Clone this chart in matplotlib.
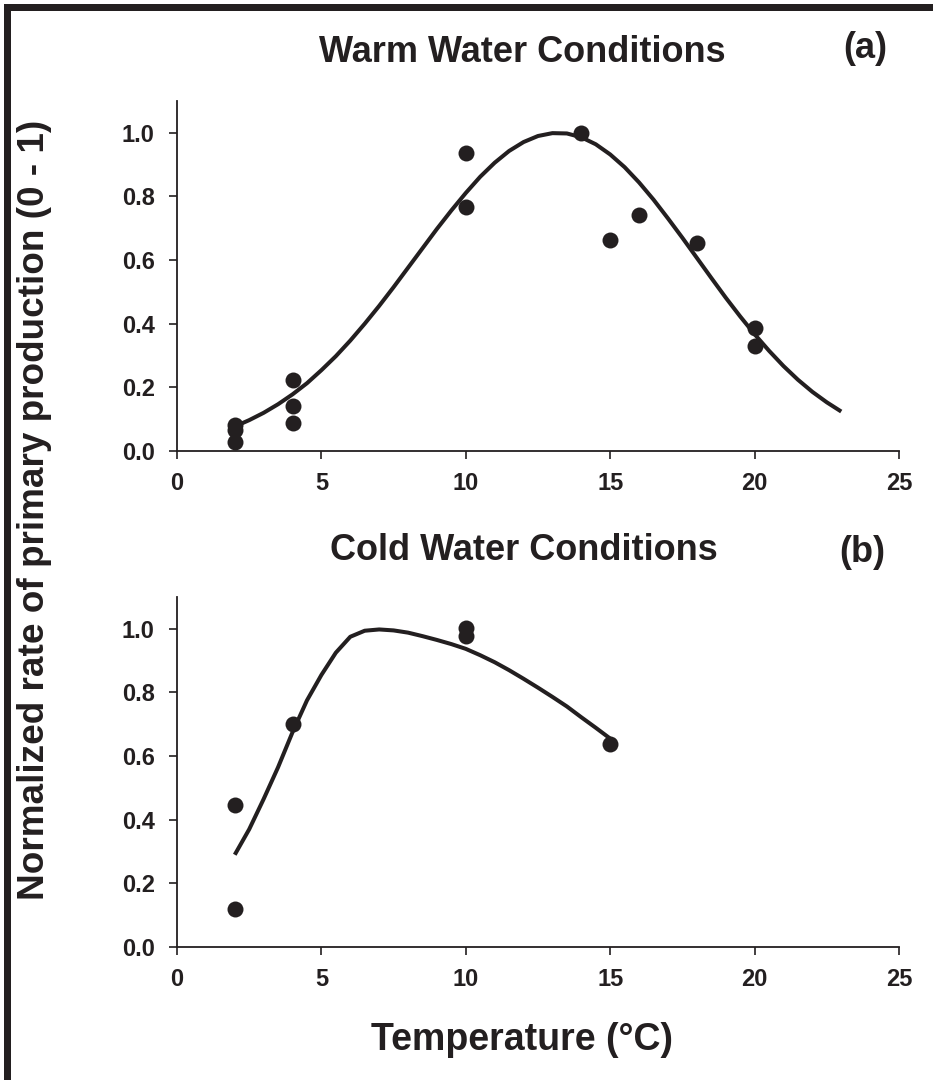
import matplotlib
matplotlib.use("Agg")
import matplotlib.pyplot as plt
from matplotlib.patches import Rectangle

plt.rcParams['font.family'] = ['Liberation Sans', 'DejaVu Sans']
plt.rcParams['font.weight'] = 'bold'

# ---- Data: warm water (panel a) ----
warm_x = [2, 2, 2, 4, 4, 4, 10, 10, 14, 15, 16, 18, 20, 20]
warm_y = [0.082, 0.066, 0.027, 0.222, 0.140, 0.089, 0.937, 0.767, 1.000, 0.663, 0.742, 0.653, 0.386, 0.331]

warm_fit_x = [2, 2.5, 3, 3.5, 4, 4.5, 5, 5.5, 6, 6.5, 7, 7.5, 8, 8.5, 9, 9.5, 10, 10.5, 11, 11.5,
              12, 12.5, 13, 13.5, 14, 14.5, 15, 15.5, 16, 16.5, 17, 17.5, 18, 18.5, 19, 19.5,
              20, 20.5, 21, 21.5, 22, 22.5, 23]
warm_fit_y = [0.077, 0.097, 0.120, 0.147, 0.178, 0.213, 0.254, 0.298, 0.347, 0.400, 0.456, 0.515,
              0.576, 0.637, 0.698, 0.756, 0.811, 0.862, 0.906, 0.943, 0.971, 0.990, 0.999, 0.998,
              0.986, 0.964, 0.932, 0.892, 0.844, 0.790, 0.731, 0.670, 0.607, 0.544, 0.482, 0.423,
              0.367, 0.315, 0.267, 0.224, 0.186, 0.153, 0.124]

# ---- Data: cold water (panel b) ----
cold_x = [2, 2, 4, 10, 10, 15]
cold_y = [0.445, 0.118, 0.700, 1.002, 0.979, 0.638]

cold_fit_x = [2, 2.5, 3, 3.5, 4, 4.5, 5, 5.5, 6, 6.5, 7, 7.5, 8, 8.5, 9, 9.5, 10, 10.5, 11, 11.5,
              12, 12.5, 13, 13.5, 14, 14.5, 15]
cold_fit_y = [0.290, 0.370, 0.465, 0.565, 0.675, 0.775, 0.855, 0.925, 0.975, 0.994, 0.998, 0.995,
              0.988, 0.977, 0.965, 0.952, 0.937, 0.917, 0.895, 0.870, 0.843, 0.815, 0.786, 0.756,
              0.722, 0.689, 0.655]

x_ticks = [0, 5, 10, 15, 20, 25]
y_ticks = [0.0, 0.2, 0.4, 0.6, 0.8, 1.0]
y_tick_labels = ['0.0', '0.2', '0.4', '0.6', '0.8', '1.0']

titles = ['Warm Water Conditions', 'Cold Water Conditions']
panel_tags = ['(a)', '(b)']
ylabel = 'Normalized rate of primary production (0 - 1)'
xlabel = 'Temperature (°C)'

W, H = 933, 1080
fig = plt.figure(figsize=(W / 100, H / 100), dpi=100)

def px_rect(l, r, b, t):
    return [l / W, 1 - b / H, (r - l) / W, (b - t) / H]

ax1 = fig.add_axes(px_rect(177, 899, 451, 101))
ax2 = fig.add_axes(px_rect(177, 899, 947, 597))

ink = '#231f20'
for ax, xs, ys, fx, fy in [(ax1, warm_x, warm_y, warm_fit_x, warm_fit_y),
                           (ax2, cold_x, cold_y, cold_fit_x, cold_fit_y)]:
    ax.plot(fx, fy, color=ink, lw=2.9, solid_capstyle='butt', zorder=2)
    ax.plot(xs, ys, 'o', color=ink, ms=11.5, mec='none', zorder=3, clip_on=False)
    ax.set_xlim(0, 25)
    ax.set_ylim(0, 1.1)
    ax.set_xticks(x_ticks)
    ax.set_xticklabels([str(t) for t in x_ticks])
    ax.set_yticks(y_ticks)
    ax.set_yticklabels(y_tick_labels)
    for s in ['top', 'right']:
        ax.spines[s].set_visible(False)
    for s in ['left', 'bottom']:
        ax.spines[s].set_linewidth(1.3)
        ax.spines[s].set_color(ink)
    ax.tick_params(direction='out', length=6, width=1.2, color=ink,
                   labelsize=17, labelcolor=ink)
    ax.tick_params(axis='y', pad=10)
    ax.tick_params(axis='x', pad=9)
    for lab in ax.get_xticklabels() + ax.get_yticklabels():
        lab.set_fontweight('bold')
    ax.patch.set_alpha(0)

fig.text(522 / W, 1 - 52 / H, titles[0], ha='center', va='center', fontsize=26, fontweight='bold', color=ink)
fig.text(865 / W, 1 - 48 / H, panel_tags[0], ha='center', va='center', fontsize=26, fontweight='bold', color=ink)
fig.text(524 / W, 1 - 551 / H, titles[1], ha='center', va='center', fontsize=26, fontweight='bold', color=ink)
fig.text(862 / W, 1 - 553 / H, panel_tags[1], ha='center', va='center', fontsize=26, fontweight='bold', color=ink)
fig.text(35 / W, 1 - 510 / H, ylabel, ha='center', va='center', rotation=90, fontsize=26.6, fontweight='bold', color=ink)
fig.text(522 / W, 1 - 1040 / H, xlabel, ha='center', va='center', fontsize=27, fontweight='bold', color=ink)

# figure frame (top and left thick border)
fig.add_artist(Rectangle((4 / W, 0), 7 / W, 1 - 4 / H, transform=fig.transFigure, color=ink, lw=0))
fig.add_artist(Rectangle((4 / W, 1 - 11 / H), 1 - 4 / W, 7 / H, transform=fig.transFigure, color=ink, lw=0))

fig.savefig('out.png', dpi=100)
